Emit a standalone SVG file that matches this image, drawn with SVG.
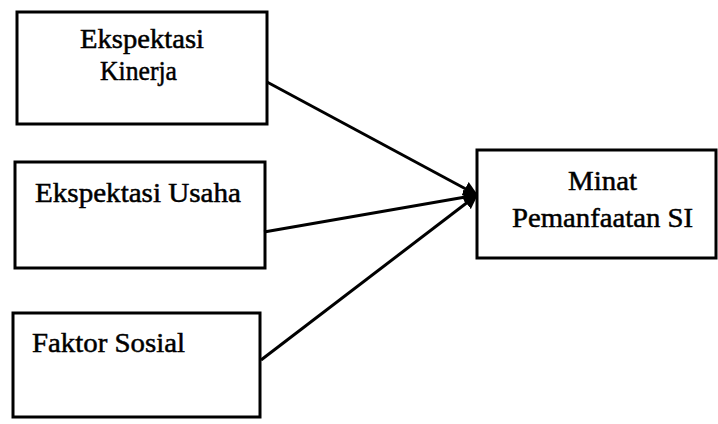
<svg xmlns="http://www.w3.org/2000/svg" width="718" height="424" viewBox="0 0 718 424">
<style>
.box{fill:#fff;stroke:#000;stroke-width:3}
.t{font-family:"Liberation Serif","Times New Roman",serif;font-size:28px;fill:#000;stroke:#000;stroke-width:0.5}
.c{stroke:#000;stroke-width:3;fill:none}
</style>
<defs>
<marker id="ah" viewBox="0 0 10 10" refX="9" refY="5" markerWidth="5" markerHeight="5" orient="auto" markerUnits="strokeWidth">
<path d="M0,0 L10,5 L0,10 Z" fill="#000"/>
</marker>
</defs>
<rect width="718" height="424" fill="#fff"/>
<g id="node-kinerja">
<rect class="box" x="17" y="12" width="250" height="112"/>
<text class="t" x="80" y="48" textLength="124" lengthAdjust="spacingAndGlyphs">Ekspektasi</text>
<text class="t" x="100" y="80" textLength="77" lengthAdjust="spacingAndGlyphs">Kinerja</text>
</g>
<g id="node-usaha">
<rect class="box" x="15" y="162" width="250" height="106"/>
<text class="t" x="35" y="202" textLength="206" lengthAdjust="spacingAndGlyphs">Ekspektasi Usaha</text>
</g>
<g id="node-sosial">
<rect class="box" x="13" y="313" width="247" height="104"/>
<text class="t" x="32" y="352" textLength="153" lengthAdjust="spacingAndGlyphs">Faktor Sosial</text>
</g>
<g id="node-minat">
<rect class="box" x="477" y="150" width="239" height="108"/>
<text class="t" x="568" y="190" textLength="69" lengthAdjust="spacingAndGlyphs">Minat</text>
<text class="t" x="512" y="227" textLength="181" lengthAdjust="spacingAndGlyphs">Pemanfaatan SI</text>
</g>
<g id="connectors">
<line class="c" x1="267" y1="82" x2="477" y2="195" marker-end="url(#ah)"/>
<line class="c" x1="264" y1="232" x2="477" y2="195" marker-end="url(#ah)"/>
<line class="c" x1="261" y1="360" x2="477" y2="195" marker-end="url(#ah)"/>
</g>
</svg>
